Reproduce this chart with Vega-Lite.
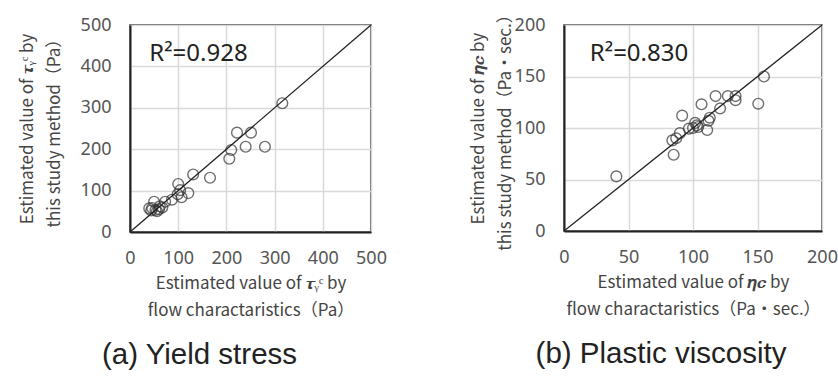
{
  "$schema": "https://vega.github.io/schema/vega-lite/v6.json",
  "padding": {"left": 17, "top": 4, "right": 0, "bottom": 0},
  "background": "white",
  "spacing": 80,
  "datasets": {
    "yield": [
      {"x": 316, "y": 311}, {"x": 222, "y": 240}, {"x": 251, "y": 240}, {"x": 240, "y": 206},
      {"x": 280, "y": 206}, {"x": 210, "y": 198}, {"x": 206, "y": 177}, {"x": 166, "y": 131},
      {"x": 131, "y": 139}, {"x": 100, "y": 116}, {"x": 121, "y": 94}, {"x": 107, "y": 84},
      {"x": 99, "y": 91}, {"x": 104, "y": 101}, {"x": 87, "y": 78}, {"x": 73, "y": 73},
      {"x": 50, "y": 73}, {"x": 40, "y": 57}, {"x": 46, "y": 58}, {"x": 53, "y": 53},
      {"x": 60, "y": 55}, {"x": 67, "y": 59}, {"x": 44, "y": 52}, {"x": 56, "y": 50},
      {"x": 62, "y": 62}
    ],
    "visc": [
      {"x": 155, "y": 150}, {"x": 150.6, "y": 123.6}, {"x": 133, "y": 131}, {"x": 133, "y": 127},
      {"x": 127, "y": 131}, {"x": 117.5, "y": 131}, {"x": 121, "y": 119}, {"x": 106.6, "y": 123},
      {"x": 113, "y": 110}, {"x": 112, "y": 107}, {"x": 111, "y": 98}, {"x": 101.7, "y": 105},
      {"x": 103, "y": 102.6}, {"x": 100, "y": 100}, {"x": 96.8, "y": 99.4}, {"x": 91.6, "y": 112},
      {"x": 89.8, "y": 95}, {"x": 87, "y": 90}, {"x": 84, "y": 88}, {"x": 85, "y": 74},
      {"x": 40.6, "y": 53}, {"x": 104, "y": 101}
    ],
    "lineA": [{"x": 0, "y": 0}, {"x": 500, "y": 500}],
    "lineB": [{"x": 0, "y": 0}, {"x": 200, "y": 200}],
    "r2a": [{"x": 40, "y": 413, "label": "R²=0.928"}],
    "r2b": [{"x": 20, "y": 165, "label": "R²=0.830"}]
  },
  "config": {
    "view": {"stroke": "#333", "strokeWidth": 1.5},
    "axis": {
      "grid": true,
      "gridColor": "#d9d9d9",
      "gridWidth": 1.5,
      "domainColor": "#222",
      "domainWidth": 2,
      "ticks": false,
      "labelFont": "Noto Sans",
      "labelFontSize": 18,
      "labelColor": "#555",
      "labelFlush": false,
      "labelOverlap": false,
      "titleFont": "Noto Sans CJK JP",
      "titleFontSize": 17,
      "titleFontWeight": "normal",
      "titleColor": "#444",
      "titleLineHeight": 27
    },
    "axisX": {"labelPadding": 17, "titlePadding": 8},
    "axisY": {"labelPadding": 19},
    "title": {"font": "Liberation Sans", "fontSize": 29.5, "fontWeight": "normal", "color": "#222"}
  },
  "hconcat": [
    {
      "width": 241,
      "height": 207,
      "title": {"text": "(a) Yield stress", "orient": "bottom", "offset": 23, "dx": -51},
      "layer": [
        {
          "data": {"name": "yield"},
          "mark": {"type": "point", "shape": "circle", "filled": false, "size": 115, "stroke": "#333", "strokeWidth": 1.4},
          "encoding": {
            "x": {"field": "x", "type": "quantitative", "scale": {"domain": [0, 500], "nice": false},
                  "axis": {"values": [0, 100, 200, 300, 400, 500], "title": ["Estimated value of 𝝉ᵧᶜ by", "flow charactaristics（Pa）"]}},
            "y": {"field": "y", "type": "quantitative", "scale": {"domain": [0, 500], "nice": false},
                  "axis": {"values": [0, 100, 200, 300, 400, 500], "title": ["Estimated value of 𝝉ᵧᶜ by", "this study method（Pa）"], "titlePadding": 17}}
          }
        },
        {
          "data": {"name": "lineA"},
          "mark": {"type": "line", "color": "#222", "strokeWidth": 1.3},
          "encoding": {
            "x": {"field": "x", "type": "quantitative"},
            "y": {"field": "y", "type": "quantitative"}
          }
        },
        {
          "data": {"name": "r2a"},
          "mark": {"type": "text", "align": "left", "baseline": "alphabetic", "fontSize": 24, "font": "Noto Sans", "color": "#222"},
          "encoding": {
            "x": {"field": "x", "type": "quantitative"},
            "y": {"field": "y", "type": "quantitative"},
            "text": {"field": "label"}
          }
        }
      ]
    },
    {
      "width": 258,
      "height": 206,
      "title": {"text": "(b) Plastic viscosity", "orient": "bottom", "offset": 23, "dx": -32},
      "layer": [
        {
          "data": {"name": "visc"},
          "mark": {"type": "point", "shape": "circle", "filled": false, "size": 115, "stroke": "#333", "strokeWidth": 1.4},
          "encoding": {
            "x": {"field": "x", "type": "quantitative", "scale": {"domain": [0, 200], "nice": false},
                  "axis": {"values": [0, 50, 100, 150, 200], "title": ["Estimated value of 𝜼𝒄 by", "flow charactaristics（Pa・sec.）"]}},
            "y": {"field": "y", "type": "quantitative", "scale": {"domain": [0, 200], "nice": false},
                  "axis": {"values": [0, 50, 100, 150, 200], "title": ["Estimated value of 𝜼𝒄 by", "this study method（Pa・sec.）"], "titlePadding": 0}}
          }
        },
        {
          "data": {"name": "lineB"},
          "mark": {"type": "line", "color": "#222", "strokeWidth": 1.3},
          "encoding": {
            "x": {"field": "x", "type": "quantitative"},
            "y": {"field": "y", "type": "quantitative"}
          }
        },
        {
          "data": {"name": "r2b"},
          "mark": {"type": "text", "align": "left", "baseline": "alphabetic", "fontSize": 24, "font": "Noto Sans", "color": "#222"},
          "encoding": {
            "x": {"field": "x", "type": "quantitative"},
            "y": {"field": "y", "type": "quantitative"},
            "text": {"field": "label"}
          }
        }
      ]
    }
  ]
}
